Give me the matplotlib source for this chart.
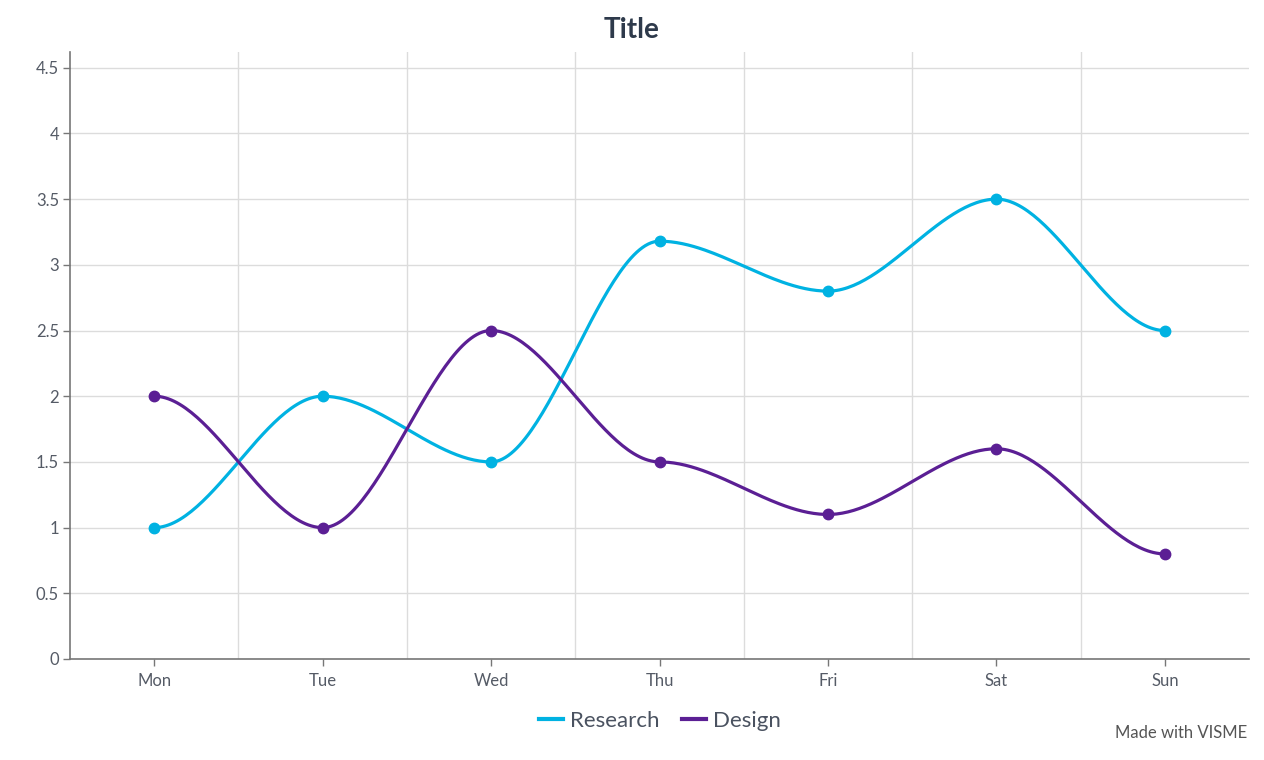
import matplotlib.pyplot as plt
from matplotlib.lines import Line2D
import numpy as np

days = ['Mon', 'Tue', 'Wed', 'Thu', 'Fri', 'Sat', 'Sun']
research = [1, 2, 1.5, 3.18, 2.8, 3.5, 2.5]
design = [2, 1, 2.5, 1.5, 1.1, 1.6, 0.8]
y_ticks = [0, 0.5, 1, 1.5, 2, 2.5, 3, 3.5, 4, 4.5]
y_tick_labels = ['0', '0.5', '1', '1.5', '2', '2.5', '3', '3.5', '4', '4.5']

research_color = '#00b2e2'
design_color = '#5b1f94'


def smooth(values, steps=60):
    # cubic segments with flat tangents at each point
    xs, ys = [], []
    for i in range(len(values) - 1):
        s = np.linspace(0, 1, steps)
        h = 3 * s ** 2 - 2 * s ** 3
        xs.append(i + s)
        ys.append(values[i] + (values[i + 1] - values[i]) * h)
    return np.concatenate(xs), np.concatenate(ys)


plt.rcParams['font.family'] = ['Lato', 'DejaVu Sans']

fig = plt.figure(figsize=(12.64, 7.6), dpi=100)
ax = fig.add_axes([0.0554, 0.1329, 0.9328, 0.7987])

x = np.arange(len(days))
for values, color in ((research, research_color), (design, design_color)):
    sx, sy = smooth(values)
    ax.plot(sx, sy, color=color, linewidth=2.3, solid_capstyle='round', zorder=3)
    ax.plot(x, values, 'o', color=color, markersize=7.5, zorder=4)

ax.set_xlim(-0.5, len(days) - 0.5)
ax.set_ylim(0, 4.62)
ax.set_xticks(x)
ax.set_xticklabels(days)
ax.set_xticks(np.arange(len(days) - 1) + 0.5, minor=True)
ax.set_yticks(y_ticks)
ax.set_yticklabels(y_tick_labels)

ax.grid(axis='y', which='major', color='#dcdcdc', linewidth=1)
ax.grid(axis='x', which='minor', color='#dcdcdc', linewidth=1)
ax.set_axisbelow(True)
ax.tick_params(axis='x', which='minor', length=0)
ax.tick_params(axis='both', which='major', length=5, color='#777777', width=1,
               labelsize=12, labelcolor='#555b66')
ax.tick_params(axis='x', which='major', pad=5)
ax.tick_params(axis='y', which='major', pad=3)

for side in ('top', 'right'):
    ax.spines[side].set_visible(False)
for side in ('left', 'bottom'):
    ax.spines[side].set_color('#777777')
    ax.spines[side].set_linewidth(1.2)

fig.text(0.5, 0.961, 'Title', ha='center', va='center', fontsize=20,
         fontweight='bold', color='#2e3a4b')

handles = [Line2D([], [], color=research_color, linewidth=3),
           Line2D([], [], color=design_color, linewidth=3)]
fig.legend(handles, ['Research', 'Design'], loc='center', bbox_to_anchor=(0.522, 0.051),
           ncol=2, frameon=False, fontsize=16, handlelength=1.1, handletextpad=0.3,
           columnspacing=1.0, labelcolor='#4a5260')

fig.text(0.987, 0.036, 'Made with VISME', ha='right', va='center', fontsize=12,
         color='#555555')

fig.savefig('out.png', dpi=100)
